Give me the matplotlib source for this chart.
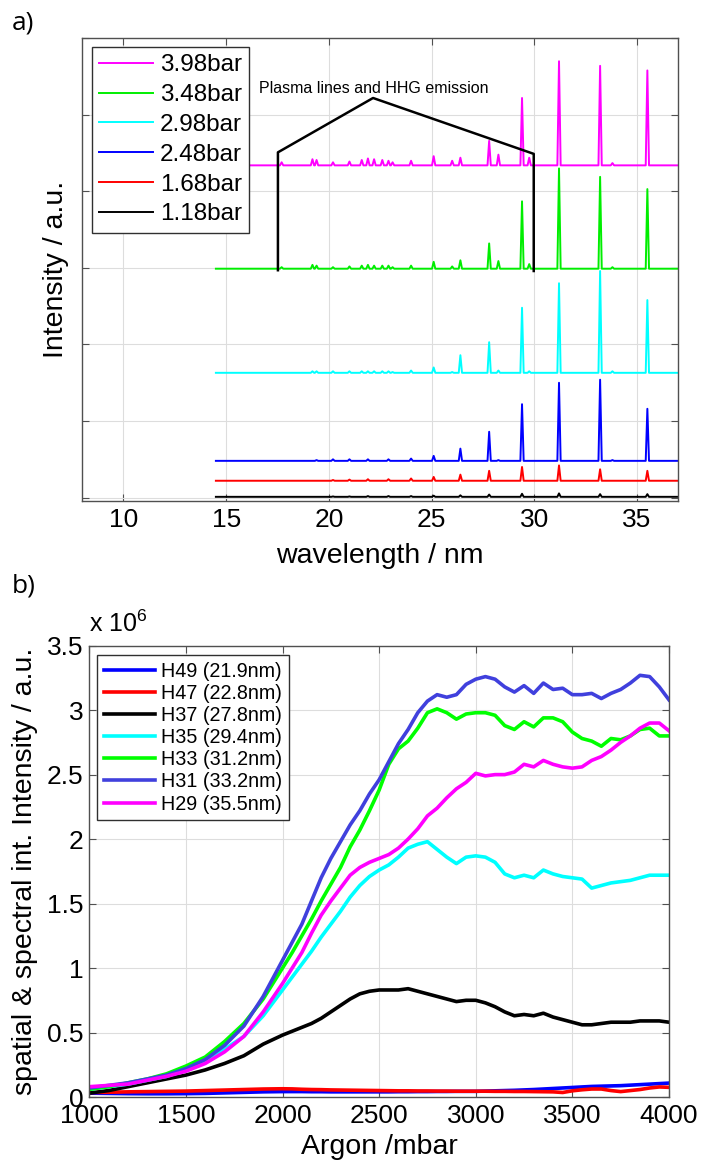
import numpy as np
import matplotlib
matplotlib.use("Agg")
import matplotlib.pyplot as plt

plt.rcParams["font.family"] = ["Liberation Sans", "DejaVu Sans"]
plt.rcParams["mathtext.fontset"] = "custom"
plt.rcParams["mathtext.rm"] = "Liberation Sans"
plt.rcParams["mathtext.default"] = "rm"

# ---- panel a: spectra (offset for display) ----
pressures_a = ["3.98bar", "3.48bar", "2.98bar", "2.48bar", "1.68bar", "1.18bar"]
colors_a = ["#ff00ff", "#00ee00", "#00ffff", "#0000ff", "#ff0000", "#000000"]
offsets_a = [4.34, 2.99, 1.63, 0.48, 0.22, 0.01]

line_wl = [17.7, 19.2, 19.4, 20.2, 21.0, 21.6, 21.9, 22.2, 22.6, 22.9, 23.1, 24.0,
           25.1, 26.0, 26.4, 27.8, 28.25, 29.4, 29.75, 31.2, 33.2, 33.8, 35.5]

heights_398 = [0.04, 0.08, 0.07, 0.04, 0.05, 0.07, 0.09, 0.08, 0.07, 0.06, 0.04, 0.06,
               0.12, 0.06, 0.10, 0.32, 0.14, 0.88, 0.10, 1.36, 1.30, 0.03, 1.24]
heights_348 = [0.02, 0.05, 0.04, 0.02, 0.03, 0.04, 0.05, 0.04, 0.04, 0.04, 0.02, 0.04,
               0.09, 0.03, 0.11, 0.33, 0.10, 0.88, 0.06, 1.31, 1.20, 0.02, 1.04]
heights_298 = [0.00, 0.02, 0.02, 0.02, 0.02, 0.02, 0.02, 0.02, 0.02, 0.02, 0.01, 0.03,
               0.07, 0.01, 0.23, 0.40, 0.03, 0.85, 0.02, 1.17, 1.33, 0.02, 0.95]
heights_248 = [0.00, 0.00, 0.01, 0.02, 0.02, 0.00, 0.02, 0.00, 0.00, 0.02, 0.00, 0.03,
               0.065, 0.00, 0.16, 0.38, 0.01, 0.74, 0.00, 1.02, 1.06, 0.01, 0.68]
heights_168 = [0.00, 0.00, 0.00, 0.01, 0.015, 0.00, 0.02, 0.00, 0.00, 0.02, 0.00, 0.03,
               0.05, 0.00, 0.08, 0.13, 0.00, 0.18, 0.00, 0.20, 0.15, 0.00, 0.13]
heights_118 = [0.00, 0.00, 0.00, 0.005, 0.005, 0.00, 0.01, 0.00, 0.00, 0.01, 0.00, 0.01,
               0.015, 0.00, 0.02, 0.03, 0.00, 0.04, 0.00, 0.045, 0.035, 0.00, 0.035]
heights_a = [heights_398, heights_348, heights_298, heights_248, heights_168, heights_118]

wl_start, wl_end = 14.5, 37.0

# bracket around plasma lines
bracket_x = [17.52, 17.52, 22.15, 29.97, 29.97]
bracket_y = [2.97, 4.51, 5.22, 4.49, 2.96]

# ---- panel b: harmonic yield vs argon pressure (units of 1e6) ----
pressure_b = np.concatenate([np.arange(1000, 2001, 100), np.arange(2050, 4001, 50)])

h49 = [0.030, 0.028, 0.026, 0.025, 0.025, 0.026, 0.028, 0.032, 0.036, 0.040, 0.042,
       0.042, 0.042, 0.041, 0.041, 0.040, 0.040, 0.040, 0.040, 0.040, 0.040,
       0.040, 0.041, 0.041, 0.042, 0.042, 0.043, 0.043, 0.044, 0.044, 0.044,
       0.046, 0.048, 0.050, 0.052, 0.055, 0.058, 0.062, 0.066, 0.070, 0.074,
       0.078, 0.082, 0.084, 0.086, 0.088, 0.092, 0.096, 0.100, 0.104, 0.108]
h47 = [0.035, 0.037, 0.040, 0.042, 0.044, 0.046, 0.050, 0.054, 0.058, 0.062, 0.064,
       0.063, 0.060, 0.058, 0.057, 0.055, 0.054, 0.053, 0.052, 0.051, 0.050,
       0.049, 0.048, 0.048, 0.047, 0.047, 0.046, 0.046, 0.045, 0.045, 0.045,
       0.045, 0.044, 0.044, 0.043, 0.043, 0.042, 0.041, 0.040, 0.035, 0.048,
       0.056, 0.062, 0.062, 0.050, 0.042, 0.050, 0.058, 0.070, 0.078, 0.075]
h37 = [0.03, 0.05, 0.08, 0.11, 0.14, 0.17, 0.21, 0.26, 0.32, 0.41, 0.48,
       0.51, 0.54, 0.57, 0.61, 0.66, 0.71, 0.76, 0.80, 0.82, 0.83,
       0.83, 0.83, 0.84, 0.82, 0.80, 0.78, 0.76, 0.74, 0.75, 0.75,
       0.73, 0.70, 0.66, 0.63, 0.64, 0.63, 0.65, 0.62, 0.60, 0.58,
       0.56, 0.56, 0.57, 0.58, 0.58, 0.58, 0.59, 0.59, 0.59, 0.58]
h35 = [0.06, 0.08, 0.10, 0.13, 0.16, 0.21, 0.27, 0.37, 0.47, 0.63, 0.83,
       0.93, 1.03, 1.13, 1.24, 1.34, 1.44, 1.55, 1.64, 1.71, 1.76,
       1.80, 1.86, 1.93, 1.96, 1.98, 1.92, 1.86, 1.81, 1.86, 1.87,
       1.86, 1.82, 1.73, 1.70, 1.72, 1.70, 1.76, 1.73, 1.71, 1.70,
       1.69, 1.62, 1.64, 1.66, 1.67, 1.68, 1.70, 1.72, 1.72, 1.72]
h33 = [0.06, 0.08, 0.11, 0.14, 0.18, 0.24, 0.31, 0.43, 0.57, 0.76, 1.00,
       1.12, 1.25, 1.38, 1.52, 1.65, 1.78, 1.94, 2.07, 2.22, 2.38,
       2.58, 2.70, 2.76, 2.86, 2.98, 3.01, 2.98, 2.93, 2.97, 2.98,
       2.98, 2.96, 2.88, 2.85, 2.91, 2.87, 2.94, 2.94, 2.91, 2.83,
       2.78, 2.76, 2.72, 2.78, 2.77, 2.80, 2.85, 2.86, 2.80, 2.80]
h31 = [0.07, 0.09, 0.11, 0.14, 0.17, 0.22, 0.29, 0.40, 0.55, 0.78, 1.06,
       1.20, 1.34, 1.52, 1.70, 1.85, 1.98, 2.11, 2.22, 2.35, 2.46,
       2.60, 2.74, 2.85, 2.98, 3.07, 3.12, 3.10, 3.12, 3.20, 3.24,
       3.26, 3.24, 3.18, 3.14, 3.19, 3.13, 3.21, 3.16, 3.17, 3.12,
       3.12, 3.13, 3.09, 3.13, 3.16, 3.21, 3.27, 3.26, 3.18, 3.08]
h29 = [0.08, 0.09, 0.10, 0.13, 0.16, 0.20, 0.26, 0.35, 0.47, 0.66, 0.88,
       1.00, 1.12, 1.27, 1.41, 1.52, 1.62, 1.72, 1.78, 1.82, 1.85,
       1.88, 1.93, 2.00, 2.08, 2.18, 2.24, 2.32, 2.39, 2.44, 2.51,
       2.49, 2.50, 2.50, 2.52, 2.58, 2.56, 2.61, 2.58, 2.56, 2.55,
       2.56, 2.61, 2.64, 2.69, 2.75, 2.80, 2.86, 2.90, 2.90, 2.84]

series_b = [h49, h47, h37, h35, h33, h31, h29]
labels_b = ["H49 (21.9nm)", "H47 (22.8nm)", "H37 (27.8nm)", "H35 (29.4nm)",
            "H33 (31.2nm)", "H31 (33.2nm)", "H29 (35.5nm)"]
colors_b = ["#0000ff", "#ff0000", "#000000", "#00ffff", "#00ff00", "#4040dd", "#ff00ff"]


def spectrum_line(offset, heights, hw=0.08):
    xs, ys = [wl_start], [offset]
    for wl, h in zip(line_wl, heights):
        xs += [wl - hw, wl, wl + hw]
        ys += [offset, offset + h, offset]
    xs.append(wl_end)
    ys.append(offset)
    return xs, ys


def style_axes(ax):
    ax.grid(True, color="#dddddd", lw=0.8)
    ax.set_axisbelow(True)
    for sp in ax.spines.values():
        sp.set_color("#505050")
        sp.set_linewidth(1.0)
    ax.tick_params(direction="in", top=True, right=True, length=5,
                   width=0.8, color="#505050", labelsize=19)
    ax.tick_params(axis="x", pad=5)
    ax.tick_params(axis="y", pad=4)


fig = plt.figure(figsize=(7.03, 11.6), dpi=100)

# ---------------- a) ----------------
ax1 = fig.add_axes([0.1171, 0.5684, 0.8476, 0.3986])
handles = []
for lab, col, off, hts in zip(pressures_a, colors_a, offsets_a, heights_a):
    xs, ys = spectrum_line(off, hts)
    ln, = ax1.plot(xs, ys, color=col, lw=1.4, label=lab)
    handles.append(ln)
ax1.plot(bracket_x, bracket_y, color="k", lw=1.8)
ax1.text(16.6, 5.34, "Plasma lines and HHG emission", fontsize=11.5, va="center")
ax1.set_xlim(8, 37)
ax1.set_ylim(-0.04, 6.0)
ax1.set_xticks([10, 15, 20, 25, 30, 35])
ax1.set_yticks(range(0, 7))
ax1.set_yticklabels([])
style_axes(ax1)
ax1.set_xlabel("wavelength / nm", fontsize=20.5)
ax1.set_ylabel("Intensity / a.u.", fontsize=20.5)
ax1.xaxis.set_label_coords(0.5, -0.092)
ax1.yaxis.set_label_coords(-0.022, 0.5)
leg1 = ax1.legend(handles=handles, loc="upper left", bbox_to_anchor=(0.0163, 0.981),
                  borderaxespad=0, fontsize=17.5, handlelength=2.2, handletextpad=0.3,
                  labelspacing=0.32, borderpad=0.3, fancybox=False, framealpha=1)
leg1.get_frame().set_edgecolor("#303030")
leg1.get_frame().set_linewidth(1.0)

# ---------------- b) ----------------
ax2 = fig.add_axes([0.1270, 0.0543, 0.8246, 0.3891])
for vals, lab, col in zip(series_b, labels_b, colors_b):
    ax2.plot(pressure_b, vals, color=col, lw=2.6, label=lab)
ax2.set_xlim(1000, 4000)
ax2.set_ylim(0, 3.5)
ax2.set_xticks(range(1000, 4001, 500))
ax2.set_yticks(np.arange(0, 3.51, 0.5))
ax2.set_yticklabels(["0", "0.5", "1", "1.5", "2", "2.5", "3", "3.5"])
style_axes(ax2)
ax2.set_xlabel("Argon /mbar", fontsize=20.5)
ax2.set_ylabel("spatial & spectral int. Intensity / a.u.", fontsize=20.5)
ax2.xaxis.set_label_coords(0.5, -0.081)
ax2.yaxis.set_label_coords(-0.088, 0.5)
ax2.text(0.0, 1.02, r"x 10$^6$", transform=ax2.transAxes, fontsize=18, va="bottom")
leg2 = ax2.legend(loc="upper left", bbox_to_anchor=(0.0138, 0.98), borderaxespad=0,
                  fontsize=14.2, handlelength=2.6, handletextpad=0.3,
                  labelspacing=0.16, borderpad=0.35, fancybox=False, framealpha=1)
leg2.get_frame().set_edgecolor("#303030")
leg2.get_frame().set_linewidth(1.0)

fig.text(0.017, 1 - 10 / 1160, "a)", fontsize=19, va="top", family="Open Sans")
fig.text(0.017, 1 - 574 / 1160, "b)", fontsize=19, va="top", family="Open Sans")

fig.savefig("out.png", dpi=100)
